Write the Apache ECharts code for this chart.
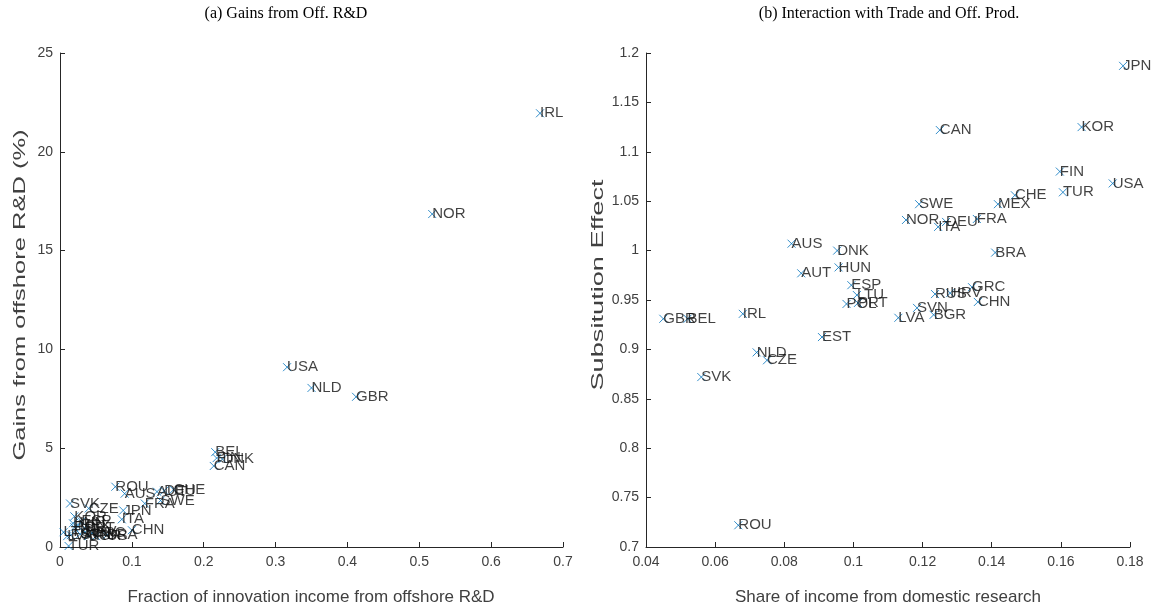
<!DOCTYPE html>
<html><head><meta charset="utf-8">
<script src="https://cdn.jsdelivr.net/npm/echarts@6/dist/echarts.min.js"></script>
<style>html,body{margin:0;padding:0;background:#fff}#c{width:1153px;height:611px}</style>
</head><body><div id="c"></div>
<script>
// Panel (a): Gains from offshore R&D
const countriesA = ['IRL','NOR','USA','NLD','GBR','BEL','FIN','DNK','CAN','ROU','AUS','DEU','CHE','AUT','SWE','FRA','SVK','CZE','JPN','ITA','KOR','ESP','HUN','MEX','POL','PRT','CHN','BRA','GRC','RUS','HRV','SVN','BGR','EST','LTU','LVA','TUR'];
const fractionOffshore = [0.668,0.518,0.316,0.350,0.412,0.216,0.218,0.226,0.214,0.077,0.090,0.145,0.158,0.135,0.140,0.118,0.014,0.040,0.088,0.086,0.020,0.030,0.018,0.025,0.020,0.035,0.100,0.065,0.045,0.050,0.035,0.028,0.040,0.015,0.005,0.010,0.012];
const gainsPct = [21.95,16.85,9.1,8.05,7.6,4.8,4.5,4.45,4.1,3.05,2.7,2.85,2.9,2.8,2.35,2.2,2.2,1.95,1.85,1.4,1.55,1.3,1.2,1.05,1.0,0.95,0.85,0.6,0.7,0.55,0.75,0.65,0.55,0.6,0.75,0.55,0.05];

// Panel (b): Interaction with Trade and Off. Prod.
const countriesB = ['JPN','KOR','CAN','FIN','USA','TUR','CHE','MEX','SWE','NOR','ITA','DEU','FRA','AUS','DNK','BRA','HUN','AUT','ESP','LTU','POL','PRT','GRC','RUS','HRV','CHN','SVN','BGR','LVA','EST','GBR','BEL','IRL','NLD','CZE','SVK','ROU'];
const shareDomestic = [0.178,0.166,0.125,0.1597,0.175,0.1606,0.1467,0.1418,0.119,0.1152,0.1245,0.1268,0.1357,0.0821,0.0953,0.141,0.0957,0.0849,0.0994,0.101,0.098,0.1013,0.1343,0.1236,0.128,0.136,0.1184,0.1232,0.113,0.0909,0.045,0.052,0.068,0.072,0.075,0.056,0.0667];
const substitution = [1.187,1.125,1.122,1.08,1.068,1.059,1.056,1.047,1.047,1.031,1.024,1.029,1.032,1.007,1.0,0.998,0.983,0.977,0.965,0.955,0.946,0.947,0.963,0.956,0.957,0.948,0.942,0.935,0.932,0.9125,0.931,0.931,0.936,0.897,0.889,0.872,0.722];

const xTicksA = {min:0, max:0.7, interval:0.1};
const yTicksA = {min:0, max:25, interval:5};
const xTicksB = {min:0.04, max:0.18, interval:0.02};
const yTicksB = {min:0.7, max:1.2, interval:0.05};

const titles = ['(a) Gains from Off. R&D', '(b) Interaction with Trade and Off. Prod.'];
const xNames = ['Fraction of innovation income from offshore R&D', 'Share of income from domestic research'];
const yNames = ['Gains from offshore R&D (%)', 'Subsitution Effect'];

const blue = '#0072BD';
const axisCol = '#262626';
const labelCol = '#404040';
const sans = 'Liberation Sans, Arial, sans-serif';

function mkData(names, xs, ys){ return names.map((n,i)=>({name:n, value:[xs[i], ys[i]]})); }

function axis(t, isY){
  return {
    type:'value', min:t.min, max:t.max, interval:t.interval,
    axisLine:{show:true, onZero:false, lineStyle:{color:axisCol, width:1}},
    axisTick:{show:true, inside:true, length:5, lineStyle:{color:axisCol}},
    axisLabel:{color:labelCol, fontFamily:sans, fontSize:14, margin:isY?7:8,
      formatter:v=>String(+v.toFixed(4))},
    splitLine:{show:false}
  };
}

function series(idx, data){
  return {
    type:'scatter', xAxisIndex:idx, yAxisIndex:idx, data:data,
    symbol:'path://M0,0L10,10M10,0L0,10', symbolSize:8,
    itemStyle:{color:'none', borderColor:blue, borderWidth:1},
    label:{show:true, position:['50%','50%'], align:'left', verticalAlign:'middle',
      formatter:p=>p.name, color:'#111', fontFamily:sans, fontSize:15},
    emphasis:{disabled:true}, silent:true, animation:false
  };
}

function txt(text, x, y, font, fill, extra){
  return Object.assign({type:'text', x:x, y:y, silent:true,
    style:{text:text, font:font, fill:fill, textAlign:'center', textVerticalAlign:'middle'}}, extra||{});
}

const nameFont = '17px "Liberation Sans", Arial, sans-serif';
const titleFont = '16px "Liberation Serif", serif';

const chart = echarts.init(document.getElementById('c'), null, {renderer:'canvas'});
chart.setOption({
  animation:false,
  backgroundColor:'#fff',
  grid:[
    {left:60, right:590, top:53, bottom:64},
    {left:646, right:23, top:53, bottom:64}
  ],
  xAxis:[ axis(xTicksA,false), Object.assign(axis(xTicksB,false), {gridIndex:1}) ],
  yAxis:[ axis(yTicksA,true), Object.assign(axis(yTicksB,true), {gridIndex:1}) ],
  graphic:[
    txt(titles[0], 286, 14, titleFont, '#000'),
    txt(titles[1], 889, 14, titleFont, '#000'),
    txt(xNames[0], 311, 597, nameFont, labelCol, {scaleX:1.0}),
    txt(xNames[1], 888, 597, nameFont, labelCol, {scaleX:1.0}),
    txt(yNames[0], 20, 295, nameFont, labelCol, {rotation:Math.PI/2, scaleX:1.5}),
    txt(yNames[1], 598, 285, nameFont, labelCol, {rotation:Math.PI/2, scaleX:1.6})
  ],
  series:[
    series(0, mkData(countriesA, fractionOffshore, gainsPct)),
    series(1, mkData(countriesB, shareDomestic, substitution))
  ]
});
</script></body></html>
